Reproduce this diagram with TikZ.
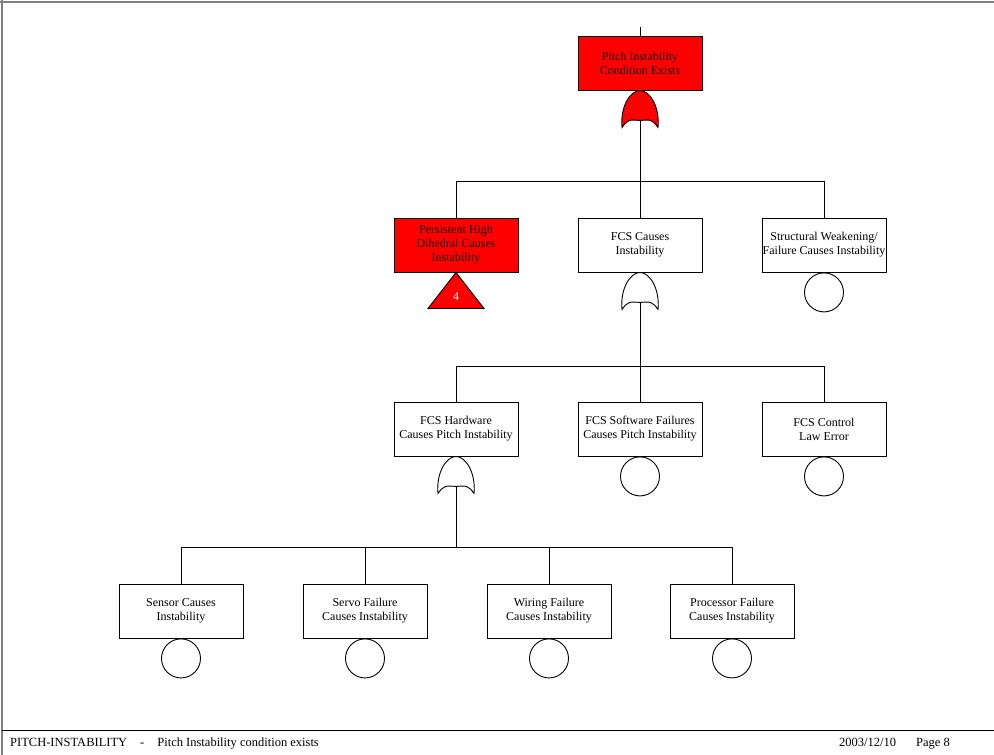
\documentclass[tikz,border=0pt]{standalone}
\usepackage{fontspec}
\setmainfont{Liberation Serif}
\definecolor{redtx}{RGB}{20,0,0}
\begin{document}
\begin{tikzpicture}[x=1pt,y=-1pt,
  evbox/.style={draw,line width=0.9pt,minimum width=124pt,minimum height=54pt,inner sep=0.5pt,align=center,font=\fontsize{12}{14}\selectfont},
  redbox/.style={draw,line width=0.9pt,minimum width=124pt,minimum height=54pt,inner sep=0pt,fill=red},
  redtext/.style={inner sep=0.5pt,align=center,font=\fontsize{12}{14}\selectfont\color{redtx}},
  basic/.style={draw,line width=0.9pt,circle,minimum size=39pt,inner sep=0pt},
  conn/.style={line width=0.9pt},
  orgate/.style={draw,line width=0.9pt,fill=white},
  foottext/.style={font=\fontsize{12.5}{14}\selectfont,inner sep=0pt}]
\useasboundingbox (0,0) rectangle (994,755);
% page frame
\draw[gray,line width=1.5pt] (0,2) -- (994,2);
\draw[gray,line width=2pt] (2,0) -- (2,755);
\draw[line width=0.8pt] (2,730) -- (994,730);
\node[anchor=west,foottext] (foot) at (10,744) {PITCH-INSTABILITY\hspace{13pt}-\hspace{13pt}Pitch Instability condition exists};
\node[anchor=east,foottext] (date) at (950,744) {2003/12/10\hspace{20pt}Page 8};

% nodes
\node[redbox] (top) at (640,63) {};
\node[redtext] (toptxt) at (top.center) {\textcolor{redtx}{Pitch Instability}\\\textcolor{redtx}{Condition Exists}};
\coordinate (stub) at (640,27);
\node[redbox] (phd) at (456,245) {};
\node[redtext] (phdtxt) at (phd.center) {\textcolor{redtx}{Persistent High}\\\textcolor{redtx}{Dihedral Causes}\\\textcolor{redtx}{Instability}};
\node[evbox] (fcs) at (640,245) {FCS Causes\\Instability};
\node[evbox] (str) at (824,245) {Structural Weakening/\\Failure Causes Instability};
\node[evbox] (hw) at (456,429) {FCS Hardware\\Causes Pitch Instability};
\node[evbox] (sw) at (640,429) {FCS Software Failures\\Causes Pitch Instability};
\node[evbox] (cl) at (824,429) {FCS Control\\Law Error};
\node[evbox] (sen) at (181,611) {Sensor Causes\\Instability};
\node[evbox] (srv) at (365,611) {Servo Failure\\Causes Instability};
\node[evbox] (wir) at (549,611) {Wiring Failure\\Causes Instability};
\node[evbox] (pro) at (732,611) {Processor Failure\\Causes Instability};

\coordinate (bar1) at (640,181);
\coordinate (bar2) at (640,366);
\coordinate (bar3) at (456,547);

% connectors
\draw[conn] (top.north) -- (stub);
\draw[conn] (top.south) -- (bar1);
\draw[conn] (phd.north) -- (phd.north |- bar1) -- (str.north |- bar1) -- (str.north);
\draw[conn] (bar1) -- (fcs.north);
\draw[conn] (fcs.south) -- (bar2);
\draw[conn] (hw.north) -- (hw.north |- bar2) -- (cl.north |- bar2) -- (cl.north);
\draw[conn] (bar2) -- (sw.north);
\draw[conn] (hw.south) -- (bar3);
\draw[conn] (sen.north) -- (sen.north |- bar3) -- (pro.north |- bar3) -- (pro.north);
\draw[conn] (srv.north) -- (srv.north |- bar3);
\draw[conn] (wir.north) -- (wir.north |- bar3);

% gates
\draw[orgate,fill=red] (top.south) ++(-18,37) .. controls ++(-2,-22) and ++(-9,0) .. (top.south) .. controls ++(9,0) and ++(2,-22) .. ++(18,37) .. controls ++(-7,-10) and ++(7,0) .. ++(-18,-7) .. controls ++(-7,0) and ++(7,-10) .. ++(-18,7) -- cycle;
\draw[orgate] (fcs.south) ++(-18,37) .. controls ++(-2,-22) and ++(-9,0) .. (fcs.south) .. controls ++(9,0) and ++(2,-22) .. ++(18,37) .. controls ++(-7,-10) and ++(7,0) .. ++(-18,-7) .. controls ++(-7,0) and ++(7,-10) .. ++(-18,7) -- cycle;
\draw[orgate] (hw.south) ++(-18,37) .. controls ++(-2,-22) and ++(-9,0) .. (hw.south) .. controls ++(9,0) and ++(2,-22) .. ++(18,37) .. controls ++(-7,-10) and ++(7,0) .. ++(-18,-7) .. controls ++(-7,0) and ++(7,-10) .. ++(-18,7) -- cycle;
\draw[conn] (top.south) ++(0,30) -- ++(0,8);
\draw[conn] (fcs.south) ++(0,30) -- ++(0,8);
\draw[conn] (hw.south) ++(0,30) -- ++(0,8);

% transfer triangle
\draw[line width=0.9pt,fill=red] (phd.south) -- ++(28,36) -- ++(-56,0) -- cycle;
\node[text=white,font=\fontsize{12}{13}\selectfont] (tr) at (456,297) {4};

% basic events
\node[basic,anchor=north] (e1) at (str.south) {};
\node[basic,anchor=north] (e2) at (sw.south) {};
\node[basic,anchor=north] (e3) at (cl.south) {};
\node[basic,anchor=north] (e4) at (sen.south) {};
\node[basic,anchor=north] (e5) at (srv.south) {};
\node[basic,anchor=north] (e6) at (wir.south) {};
\node[basic,anchor=north] (e7) at (pro.south) {};
\end{tikzpicture}
\end{document}
